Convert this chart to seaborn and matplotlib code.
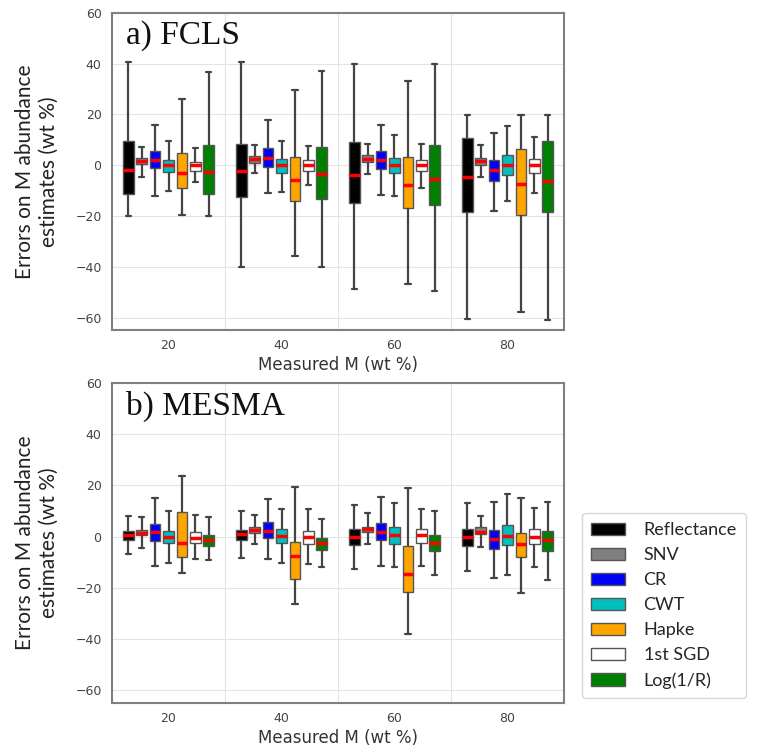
import matplotlib
matplotlib.use("Agg")
import pandas as pd
import matplotlib.pyplot as plt
import seaborn as sns

m_levels = [20, 40, 60, 80]
methods = ["Reflectance", "SNV", "CR", "CWT", "Hapke", "1st SGD", "Log(1/R)"]
colors = ["black", "gray", "blue", "c", "orange", "white", "green"]

# five-number summaries (whisker low, q1, median, q3, whisker high), one per M level
fcls_reflectance = [(-20.1, -11.5, -1.8, 9.4, 40.8), (-39.9, -12.6, -2.2, 8.5, 40.5),
                    (-48.8, -14.9, -4.0, 9.1, 39.7), (-60.7, -18.4, -4.5, 10.6, 19.8)]
fcls_snv = [(-4.5, 0.3, 1.5, 2.8, 7.2), (-3.2, 1.0, 2.3, 3.6, 7.8),
            (-3.5, 1.3, 2.6, 3.9, 8.2), (-4.8, 0.1, 1.6, 3.0, 8.0)]
fcls_cr = [(-12.0, -1.3, 2.2, 5.6, 15.9), (-11.1, -0.9, 3.0, 6.6, 17.6),
           (-11.9, -1.6, 2.2, 5.6, 15.9), (-18.1, -6.1, -1.8, 2.1, 12.8)]
fcls_cwt = [(-10.1, -2.6, -0.1, 2.1, 9.6), (-10.4, -3.0, -0.1, 2.3, 9.7),
            (-12.0, -3.1, 0.1, 3.0, 12.0), (-14.1, -3.9, 0.0, 3.9, 15.4)]
fcls_hapke = [(-19.5, -9.1, -3.2, 4.9, 25.9), (-35.6, -14.0, -5.8, 3.4, 29.4),
              (-46.6, -16.8, -7.8, 3.4, 33.3), (-57.8, -19.8, -7.6, 6.5, 19.8)]
fcls_sgd = [(-6.7, -2.1, 0.0, 1.4, 6.6), (-8.0, -2.2, 0.0, 1.9, 7.6),
            (-8.8, -2.2, 0.0, 2.1, 8.4), (-11.1, -3.1, 0.0, 2.6, 11.0)]
fcls_log = [(-20.1, -11.5, -2.5, 7.9, 36.6), (-39.9, -13.2, -3.5, 7.2, 36.9),
            (-49.4, -15.5, -5.4, 7.8, 39.7), (-60.8, -18.5, -6.1, 9.7, 19.8)]

mesma_reflectance = [(-6.9, -1.3, 0.5, 2.3, 8.2), (-8.2, -1.4, 1.2, 2.7, 9.9),
                     (-12.7, -3.2, -0.1, 3.0, 12.3), (-13.6, -3.6, -0.3, 3.0, 13.0)]
mesma_snv = [(-4.3, 0.5, 1.6, 2.6, 7.5), (-3.0, 1.6, 2.6, 3.9, 8.4),
             (-2.9, 1.8, 3.0, 3.9, 9.4), (-3.9, 1.0, 1.9, 3.9, 7.9)]
mesma_cr = [(-11.4, -1.6, 1.8, 4.9, 14.9), (-8.8, -0.4, 2.3, 5.6, 14.7),
            (-11.4, -1.4, 1.7, 5.2, 15.5), (-16.0, -4.9, -1.0, 2.6, 13.4)]
mesma_cwt = [(-10.1, -2.6, 0.0, 2.3, 9.9), (-10.1, -2.6, 0.4, 2.9, 10.7),
             (-12.0, -2.7, 0.5, 3.8, 13.3), (-14.9, -3.1, 0.3, 4.5, 16.5)]
mesma_hapke = [(-14.0, -7.8, -2.3, 9.5, 23.8), (-26.2, -16.4, -7.5, -2.1, 19.5),
               (-38.1, -21.6, -14.4, -3.6, 19.1), (-21.8, -8.1, -3.0, 1.3, 15.2)]
mesma_sgd = [(-8.6, -2.3, -0.4, 1.9, 8.6), (-10.5, -3.0, 0.0, 2.3, 10.9),
             (-11.4, -2.6, 0.6, 3.1, 10.8), (-11.7, -2.9, -0.1, 2.9, 11.0)]
mesma_log = [(-9.2, -3.5, -1.3, 0.6, 7.5), (-12.0, -5.1, -2.6, -0.4, 6.9),
             (-14.8, -5.8, -2.6, 0.5, 9.9), (-17.0, -5.8, -1.2, 2.2, 13.4)]

fcls = [fcls_reflectance, fcls_snv, fcls_cr, fcls_cwt, fcls_hapke, fcls_sgd, fcls_log]
mesma = [mesma_reflectance, mesma_snv, mesma_cr, mesma_cwt, mesma_hapke, mesma_sgd, mesma_log]


def long_table(summaries):
    rows = []
    for method, boxes in zip(methods, summaries):
        for m, five in zip(m_levels, boxes):
            for v in five:
                rows.append({"M": m, "method": method, "err": v})
    return pd.DataFrame(rows)


sns.set_style("white")
plt.rcParams["font.family"] = ["DejaVu Sans"]

fig = plt.figure(figsize=(7.57, 7.49), dpi=100)
ax1 = fig.add_axes([0.148, 0.559, 0.597, 0.424])
ax2 = fig.add_axes([0.148, 0.061, 0.597, 0.428])

for ax, summaries, tag in [(ax1, fcls, "a) FCLS"), (ax2, mesma, "b) MESMA")]:
    df = long_table(summaries)
    sns.boxplot(data=df, x="M", y="err", hue="method", hue_order=methods,
                palette=colors, whis=(0, 100), width=0.83, gap=0.2, saturation=1,
                linecolor="#555555", linewidth=1,
                medianprops=dict(color="red", linewidth=2.5),
                whiskerprops=dict(color="#444444", linewidth=1.6),
                capprops=dict(color="#444444", linewidth=1.6),
                ax=ax)
    ax.set_xlim(-0.5, 3.5)
    ax.set_ylim(-65, 60)
    ax.set_yticks(range(-60, 61, 20))
    ax.set_xticks([0.5, 1.5, 2.5], labels=[])
    ax.set_xticks(range(4), labels=[str(m) for m in m_levels], minor=True)
    ax.tick_params(axis="x", which="minor", length=0, labelsize=9, colors="#444444", pad=6)
    ax.tick_params(axis="x", which="major", length=4, color="#555555")
    ax.tick_params(axis="y", length=4, labelsize=9, colors="#444444", color="#555555")
    ax.grid(True, which="major", color="#e4e4e4", linewidth=0.8)
    for sp in ax.spines.values():
        sp.set_color("#808080")
        sp.set_linewidth(1.5)
    ax.set_xlabel("Measured M (wt %)", fontsize=12, color="#333333", labelpad=3)
    ax.set_ylabel("Errors on M abundance\nestimates (wt %)", fontsize=15,
                  family=["Lato", "DejaVu Sans"], color="#222222", labelpad=12)
    ax.text(0.03, 0.975, tag, transform=ax.transAxes, va="top", ha="left",
            fontsize=24, family=["Liberation Serif", "DejaVu Serif"], color="#111111")

handles, labels = ax2.get_legend_handles_labels()
ax1.get_legend().remove()
ax2.get_legend().remove()
fig.legend(handles, labels, loc="lower left", bbox_to_anchor=(0.769, 0.068),
           borderaxespad=0,
           prop={"family": ["Lato", "DejaVu Sans"], "size": 13},
           frameon=True, edgecolor="#cccccc", handlelength=1.9, handleheight=0.7,
           labelspacing=0.5, borderpad=0.5, handletextpad=1.0)

fig.savefig("out.png", dpi=100)
